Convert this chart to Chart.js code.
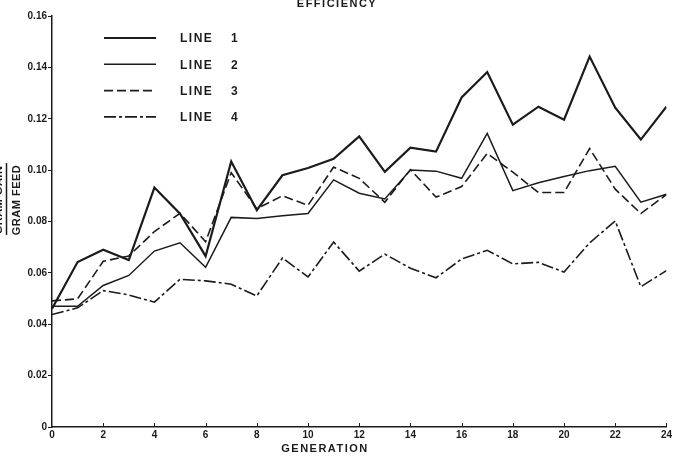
<!DOCTYPE html>
<html>
<head>
<meta charset="utf-8">
<script src="https://cdn.jsdelivr.net/npm/chart.js@4"></script>
<style>
  html, body { margin: 0; padding: 0; background: #fff; }
  canvas { display: block; }
</style>
</head>
<body>
<canvas id="effChart" width="674" height="460"></canvas>
<script>
// generations on the x axis
const generations = [0, 1, 2, 3, 4, 5, 6, 7, 8, 9, 10, 11, 12, 13, 14, 15, 16, 17, 18, 19, 20, 21, 22, 23, 24];

// gram gain / gram feed
const line1 = [0.0460, 0.0642, 0.0690, 0.0650, 0.0932, 0.0830, 0.0665, 0.1034, 0.0844, 0.0980, 0.1008, 0.1044, 0.1131, 0.0993, 0.1087, 0.1072, 0.1283, 0.1382, 0.1177, 0.1247, 0.1196, 0.1442, 0.1243, 0.1119, 0.1247];
const line2 = [0.0470, 0.0470, 0.0551, 0.0590, 0.0685, 0.0717, 0.0622, 0.0816, 0.0812, 0.0822, 0.0831, 0.0962, 0.0910, 0.0888, 0.1000, 0.0996, 0.0968, 0.1143, 0.0920, 0.0951, 0.0975, 0.0998, 0.1015, 0.0875, 0.0906];
const line3 = [0.0491, 0.0499, 0.0645, 0.0666, 0.0761, 0.0832, 0.0721, 0.0990, 0.0850, 0.0900, 0.0863, 0.1012, 0.0968, 0.0875, 0.1002, 0.0895, 0.0936, 0.1065, 0.0992, 0.0913, 0.0913, 0.1084, 0.0926, 0.0831, 0.0905];
const line4 = [0.0438, 0.0464, 0.0531, 0.0514, 0.0486, 0.0575, 0.0569, 0.0556, 0.0510, 0.0658, 0.0584, 0.0720, 0.0607, 0.0673, 0.0618, 0.0581, 0.0654, 0.0688, 0.0635, 0.0641, 0.0603, 0.0717, 0.0802, 0.0546, 0.0609];

const seriesNames = ['LINE', 'LINE', 'LINE', 'LINE'];
const seriesNumbers = ['1', '2', '3', '4'];

const ink = '#1b1b1b';
const letterFont = 'bold 11px "Liberation Sans", Arial, sans-serif';

function pts(vals) {
    return vals.map((v, i) => ({ x: generations[i], y: v }));
}

// titles, legend and inward x ticks
const decorations = {
    id: 'decorations',
    afterDraw(chart) {
        const ctx = chart.ctx;
        const xs = chart.scales.x;
        const area = chart.chartArea;
        ctx.save();
        ctx.fillStyle = ink;
        ctx.strokeStyle = ink;

        // small ticks pointing up into the plot
        ctx.lineWidth = 1;
        for (let g = 2; g <= 24; g += 2) {
            const px = Math.round(xs.getPixelForValue(g)) + 0.5;
            ctx.beginPath();
            ctx.moveTo(px, area.bottom);
            ctx.lineTo(px, area.bottom - 4);
            ctx.stroke();
        }

        // top title, cut by the edge
        ctx.font = letterFont;
        ctx.letterSpacing = '1.5px';
        ctx.textAlign = 'center';
        ctx.textBaseline = 'alphabetic';
        ctx.fillText('EFFICIENCY', 337, 7);

        // x axis title
        ctx.fillText('GENERATION', 325, 452);

        // y axis title as a fraction, numerator mostly off the edge
        ctx.letterSpacing = '0.5px';
        ctx.save();
        ctx.translate(20, 200);
        ctx.rotate(-Math.PI / 2);
        ctx.fillText('GRAM FEED', 0, 0);
        ctx.restore();
        ctx.save();
        ctx.translate(2, 200);
        ctx.rotate(-Math.PI / 2);
        ctx.fillText('GRAM GAIN', 0, 0);
        ctx.restore();
        ctx.lineWidth = 1.5;
        ctx.beginPath();
        ctx.moveTo(6.5, 163);
        ctx.lineTo(6.5, 235);
        ctx.stroke();

        // legend
        ctx.font = 'bold 12px "Liberation Sans", Arial, sans-serif';
        ctx.letterSpacing = '1.5px';
        ctx.textAlign = 'left';
        ctx.textBaseline = 'middle';
        chart.data.datasets.forEach((ds, i) => {
            const y = 38 + i * 26.3;
            ctx.save();
            ctx.lineWidth = ds.borderWidth;
            ctx.setLineDash(ds.borderDash || []);
            ctx.beginPath();
            ctx.moveTo(104, y);
            ctx.lineTo(156, y);
            ctx.stroke();
            ctx.restore();
            ctx.fillText(seriesNames[i], 180, y + 1);
            ctx.textAlign = 'center';
            ctx.fillText(seriesNumbers[i], 235, y + 1);
            ctx.textAlign = 'left';
        });
        ctx.restore();
    }
};

new Chart(document.getElementById('effChart').getContext('2d'), {
    type: 'line',
    data: {
        datasets: [
            { label: 'LINE 1', data: pts(line1), borderColor: ink, borderWidth: 2.2, borderDash: [] },
            { label: 'LINE 2', data: pts(line2), borderColor: ink, borderWidth: 1.5, borderDash: [] },
            { label: 'LINE 3', data: pts(line3), borderColor: ink, borderWidth: 1.6, borderDash: [9, 4] },
            { label: 'LINE 4', data: pts(line4), borderColor: ink, borderWidth: 1.6, borderDash: [12, 3, 3, 3] }
        ]
    },
    options: {
        responsive: false,
        animation: false,
        devicePixelRatio: 1,
        layout: { padding: { top: 16, right: 6, left: 0, bottom: 0 } },
        elements: {
            point: { radius: 0 },
            line: { tension: 0, fill: false, borderJoinStyle: 'miter' }
        },
        plugins: {
            legend: { display: false },
            tooltip: { enabled: false }
        },
        scales: {
            x: {
                type: 'linear',
                min: 0,
                max: 24,
                afterFit(scale) { scale.height = 33; },
                border: { color: ink, width: 1.5 },
                grid: { drawOnChartArea: false, drawTicks: false },
                ticks: {
                    stepSize: 2,
                    padding: 2,
                    color: ink,
                    maxRotation: 0,
                    font: { family: '"Liberation Sans", Arial, sans-serif', size: 10, weight: 'bold' }
                }
            },
            y: {
                min: 0,
                max: 0.16,
                afterFit(scale) { scale.width = 52; },
                border: { color: ink, width: 1.5 },
                grid: { drawOnChartArea: false, tickLength: 4, color: ink, lineWidth: 1 },
                ticks: {
                    stepSize: 0.02,
                    padding: 1,
                    color: ink,
                    font: { family: '"Liberation Sans", Arial, sans-serif', size: 10, weight: 'bold' },
                    callback: v => (Math.abs(v) < 1e-9 ? '0' : v.toFixed(2))
                }
            }
        }
    },
    plugins: [decorations]
});
</script>
</body>
</html>
